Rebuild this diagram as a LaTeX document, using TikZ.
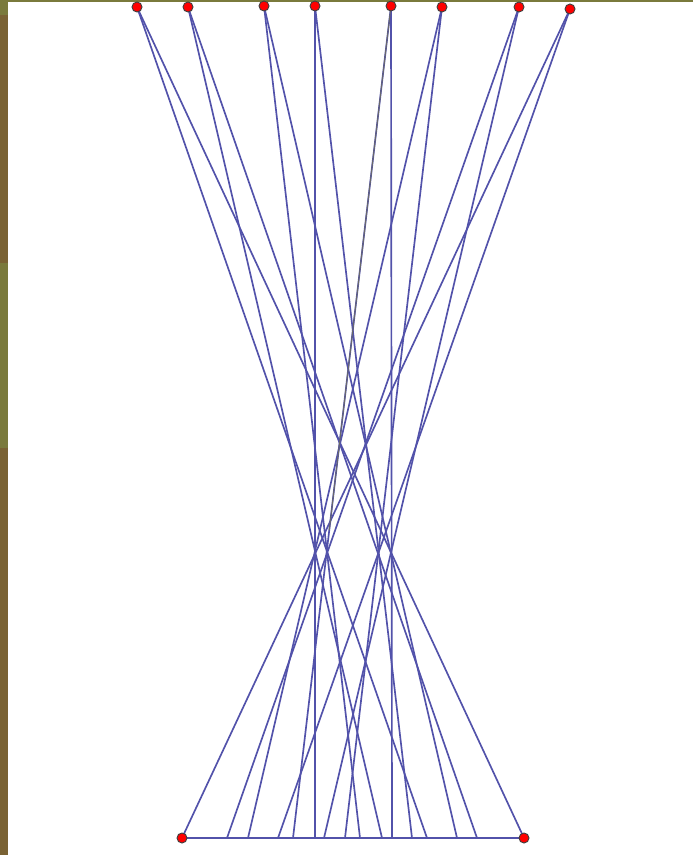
\documentclass[tikz,border=0pt]{standalone}
\usetikzlibrary{calc}
\definecolor{ray}{RGB}{82,82,170}
\definecolor{olivebar}{RGB}{122,122,60}
\definecolor{brownbar}{RGB}{122,98,52}
\definecolor{grayray}{RGB}{105,105,105}
\tikzset{
  dot/.style={circle,fill=red,draw=black!75,line width=0.7pt,inner sep=0pt,minimum size=7.5pt},
  rayline/.style={draw=ray,line width=1.25pt},
  grayline/.style={draw=grayray,line width=0.7pt}
}
\begin{document}
\begin{tikzpicture}[x=0.75pt,y=-0.75pt]
\useasboundingbox (0,0) rectangle (693,855);
\fill[white] (0,0) rectangle (693,855);
% border strips
\fill[olivebar] (0,0) rectangle (8,15);
\fill[brownbar] (0,15) rectangle (8,263);
\fill[olivebar] (0,263) rectangle (8,448);
\fill[brownbar] (0,448) rectangle (8,855);
\fill[olivebar] (0,0) rectangle (693,2);
% top points
\coordinate (t1) at (137,7);
\coordinate (t2) at (188,7);
\coordinate (t3) at (264,6);
\coordinate (t4) at (315,6);
\coordinate (t5) at (391,6);
\coordinate (t6) at (442,7);
\coordinate (t7) at (519,7);
\coordinate (t8) at (570,9);
% bottom points
\coordinate (bL) at (182,838);
\coordinate (bR) at (524,838);
\coordinate (b227) at (227,838);
\coordinate (b248) at (248,838);
\coordinate (b278) at (278,838);
\coordinate (b293) at (293,838);
\coordinate (b315) at (315,838);
\coordinate (b324) at (324,838);
\coordinate (b345) at (345,838);
\coordinate (b360) at (360,838);
\coordinate (b382) at (382,838);
\coordinate (b392) at (392,838);
\coordinate (b412) at (412,838);
\coordinate (b427) at (427,838);
\coordinate (b457) at (457,838);
\coordinate (b477) at (477,838);
% bottom line
\draw[rayline] (bL) -- (bR);
% rays
\draw[rayline] (t1) -- (b427);
\draw[rayline] (t1) -- (bR);
\draw[rayline] (t2) -- (b382);
\draw[rayline] (t2) -- (b477);
\draw[rayline] (t3) -- (b360);
\draw[rayline] (t3) -- (b457);
\draw[rayline] (t4) -- (b315);
\draw[rayline] (t4) -- (b412);
\draw[rayline] (t5) -- (b392);
\draw[rayline] (t5) -- (b293);
\draw[rayline] (t6) -- (b345);
\draw[rayline] (t6) -- (b248);
\draw[rayline] (t7) -- (b324);
\draw[rayline] (t7) -- (b227);
\draw[rayline] (t8) -- (b278);
\draw[rayline] (t8) -- (bL);
% gray overlay
\coordinate (gEnd) at ($(t5)!0.63!(b293)$);
\draw[grayline] (t5) -- (gEnd);
% dots
\foreach \p in {t1,t2,t3,t4,t5,t6,t7,t8,bL,bR}
  \node[dot] (d\p) at (\p) {};
\end{tikzpicture}
\end{document}
